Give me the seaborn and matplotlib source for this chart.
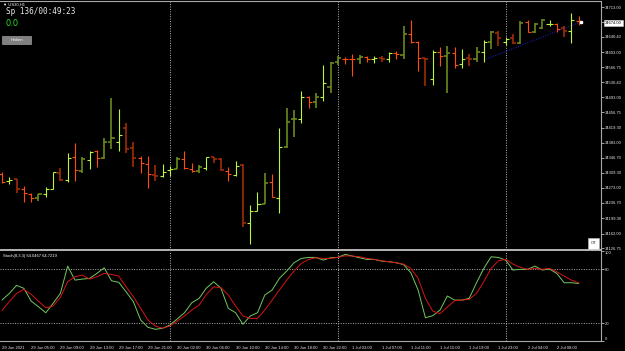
import numpy as np
import pandas as pd
import seaborn as sns
import matplotlib.pyplot as plt
from matplotlib.patches import Rectangle
from matplotlib.transforms import blended_transform_factory

# US30 H1 bars
opens = [34307, 34290, 34295, 34270, 34258, 34248, 34258, 34270, 34309, 34292,
         34348, 34314, 34341, 34363, 34346, 34385, 34385, 34419, 34370, 34346,
         34331, 34304, 34302, 34316, 34319, 34343, 34319, 34314, 34321, 34348,
         34343, 34314, 34304, 34329, 34188, 34217, 34234, 34287, 34248, 34372,
         34441, 34441, 34494, 34482, 34494, 34518, 34579, 34587, 34587, 34587,
         34591, 34587, 34589, 34587, 34601, 34596, 34647, 34628, 34589, 34538,
         34604, 34594, 34601, 34574, 34589, 34587, 34604, 34628, 34650, 34628,
         34638, 34625, 34676, 34652, 34662, 34672, 34672, 34662, 34655, 34679]
highs = [34312, 34299, 34295, 34278, 34260, 34258, 34275, 34312, 34321, 34358,
         34382, 34348, 34363, 34365, 34394, 34492, 34465, 34431, 34385, 34351,
         34351, 34329, 34331, 34326, 34348, 34363, 34334, 34329, 34348, 34348,
         34346, 34324, 34338, 34331, 34231, 34263, 34309, 34307, 34419, 34467,
         34462, 34509, 34497, 34504, 34572, 34579, 34594, 34591, 34599, 34596,
         34594, 34594, 34594, 34604, 34606, 34667, 34681, 34630, 34589, 34608,
         34616, 34618, 34616, 34611, 34599, 34616, 34633, 34655, 34655, 34640,
         34647, 34679, 34681, 34674, 34684, 34681, 34674, 34667, 34698, 34691]
lows = [34285, 34282, 34260, 34239, 34239, 34241, 34251, 34270, 34290, 34287,
        34290, 34309, 34319, 34324, 34343, 34368, 34363, 34358, 34324, 34309,
        34273, 34290, 34299, 34302, 34319, 34319, 34312, 34309, 34316, 34334,
        34314, 34290, 34302, 34178, 34136, 34217, 34234, 34251, 34212, 34370,
        34397, 34431, 34467, 34467, 34484, 34504, 34572, 34574, 34545, 34574,
        34579, 34577, 34579, 34579, 34587, 34587, 34625, 34557, 34521, 34523,
        34569, 34504, 34565, 34565, 34569, 34579, 34579, 34611, 34618, 34621,
        34623, 34623, 34652, 34650, 34659, 34667, 34652, 34640, 34625, 34669]
closes = [34287, 34292, 34270, 34260, 34248, 34258, 34270, 34312, 34292, 34346,
          34316, 34343, 34360, 34346, 34385, 34394, 34402, 34368, 34346, 34334,
          34307, 34302, 34312, 34319, 34343, 34321, 34314, 34324, 34348, 34343,
          34316, 34307, 34326, 34188, 34217, 34234, 34285, 34251, 34372, 34433,
          34441, 34494, 34482, 34494, 34528, 34577, 34589, 34587, 34587, 34591,
          34587, 34589, 34587, 34601, 34599, 34647, 34628, 34589, 34587, 34604,
          34594, 34601, 34572, 34587, 34587, 34604, 34628, 34652, 34638, 34635,
          34625, 34674, 34652, 34672, 34681, 34672, 34659, 34655, 34681, 34674]
# G = bright up, O = dark up, R = bright down, D = dark down
bar_kind = list("RGDRROGGDG" "ROGROOGDDR" "RDGGORROGD" "DRGDGGORGO"
                "OGROGOORRO" "RGDGRORRDG" "RORGDOGODG" "DOROOGRDGR")

# Stoch(8,3,3)
stoch_main = [45.7, 53.0, 62.0, 58.7, 44.6, 38.3, 31.7, 42.1, 53.1, 83.3,
              67.8, 68.9, 69.7, 75.2, 81.4, 67.1, 65.3, 54.9, 43.9, 23.6,
              15.6, 13.4, 14.5, 18.1, 24.8, 31.7, 42.8, 47.6, 59.0, 66.0,
              58.7, 36.6, 31.7, 18.9, 28.1, 31.7, 51.3, 56.8, 69.7, 77.8,
              87.0, 91.8, 92.9, 92.9, 89.9, 92.5, 92.9, 96.2, 94.4, 92.5,
              90.7, 90.7, 88.8, 88.1, 87.0, 85.0, 76.0, 56.8, 26.2, 28.4,
              34.7, 50.2, 45.7, 45.7, 47.6, 64.9, 80.8, 93.6, 92.9, 89.9,
              78.9, 79.7, 79.7, 83.3, 78.9, 80.0, 75.2, 64.9, 64.9, 64.05]
stoch_signal = [34.0, 43.9, 53.1, 57.6, 52.0, 44.6, 37.2, 39.1, 48.7, 66.0,
                71.5, 73.4, 68.9, 71.5, 75.2, 74.1, 72.3, 60.4, 49.4, 36.6,
                23.6, 17.0, 14.5, 17.0, 22.5, 28.1, 34.7, 40.2, 52.0, 60.4,
                59.3, 51.3, 39.1, 28.1, 25.5, 25.5, 34.7, 45.7, 56.8, 67.8,
                77.8, 86.3, 90.7, 92.5, 91.8, 91.8, 92.9, 94.7, 94.4, 93.6,
                91.8, 90.7, 89.2, 88.1, 87.0, 85.5, 80.8, 69.7, 47.6, 33.6,
                30.6, 38.0, 45.0, 45.7, 46.5, 53.1, 66.0, 80.8, 89.2, 90.7,
                85.5, 81.9, 79.7, 80.8, 79.7, 80.8, 77.0, 72.3, 67.8, 64.72]

time_labels = ["29 Jun 2021", "29 Jun 05:00", "29 Jun 09:00", "29 Jun 13:00",
               "29 Jun 17:00", "29 Jun 21:00", "30 Jun 02:00", "30 Jun 06:00",
               "30 Jun 10:00", "30 Jun 14:00", "30 Jun 18:00", "30 Jun 22:00",
               "1 Jul 03:00", "1 Jul 07:00", "1 Jul 11:00", "1 Jul 15:00",
               "1 Jul 19:00", "1 Jul 23:00", "2 Jul 04:00", "2 Jul 08:00"]
label_bars = list(range(0, 80, 4))
day_breaks = [23, 46, 69]
price_ticks = [34713.00, 34676.70, 34640.40, 34603.00, 34566.75, 34530.40,
               34493.00, 34456.75, 34419.30, 34383.00, 34346.70, 34309.30,
               34273.00, 34236.70, 34199.30, 34162.00, 34126.75]
stoch_levels = [20, 80]
trend_x = [66.0, 79.2]
trend_y = [34584, 34676]

sns.set_style("dark")
plt.rcParams["font.family"] = ["Liberation Sans", "DejaVu Sans"]

W, H = 625, 351
fig = plt.figure(figsize=(6.25, 3.51), dpi=100, facecolor="black")


def box(x0, y0, x1, y1):
    return [x0 / W, 1 - y1 / H, (x1 - x0) / W, (y1 - y0) / H]


ax = fig.add_axes(box(0, 1, 601, 250))
ax2 = fig.add_axes(box(0, 251, 601, 341.4))
for a in (ax, ax2):
    a.set_facecolor("black")
    a.grid(False)
    a.set_xlim(-0.27, 82.05)
    for s in a.spines.values():
        s.set_color("#A8A8A8")
        s.set_linewidth(0.8)
    a.spines["left"].set_visible(False)
ax.spines["bottom"].set_linewidth(1.4)
ax.spines["bottom"].set_color("#B4B4B4")
ax2.spines["top"].set_visible(False)

# price bars
palette = {"G": "#BDF53C", "O": "#6A8A1C", "R": "#FF4C0C", "D": "#A02C06"}
widths = {"G": 0.8, "O": 1.2, "R": 0.8, "D": 1.2}
bars = pd.DataFrame(dict(open=opens, high=highs, low=lows, close=closes, kind=bar_kind))
bars["x"] = np.arange(len(bars))
for kind, grp in bars.groupby("kind"):
    c, lw = palette[kind], widths[kind]
    ax.vlines(grp.x, grp.low, grp.high, color=c, lw=lw)
    ax.hlines(grp.open, grp.x - 0.42, grp.x, color=c, lw=lw)
    ax.hlines(grp.close, grp.x, grp.x + 0.42, color=c, lw=lw)

ax.plot(trend_x, trend_y, color="#1A1AB0", ls=(0, (1, 1.2)), lw=0.8, zorder=1)
ax.plot(bars.x.iloc[-1] + 0.3, closes[-1] + 2, marker="s", ms=1.6, color="white")

for b in day_breaks:
    for a in (ax, ax2):
        a.axvline(b, color="#B8B8B8", ls=(0, (1, 1.5)), lw=0.7, zorder=0)

ax.set_ylim(34121.9, 34727.6)
ax.set_xticks([])
ax.yaxis.tick_right()
ax.set_yticks(price_ticks)
ax.set_yticklabels([f"{p:.2f}" for p in price_ticks])
ax.tick_params(axis="y", colors="#E6E6E6", labelsize=3, length=2, width=0.5, pad=1)

# current price
trans = blended_transform_factory(ax.transAxes, ax.transData)
ax.text(1.006, closes[-1], f"{closes[-1]:.2f}", transform=trans, fontsize=3,
        color="black", va="center", ha="left", zorder=5,
        bbox=dict(boxstyle="square,pad=0.25", fc="white", ec="#D0D0D0", lw=0.4))

# stochastic panel
st = pd.DataFrame({"bar": np.arange(len(stoch_main)), "Main": stoch_main,
                   "Signal": stoch_signal}).melt("bar", var_name="line", value_name="value")
sns.lineplot(data=st, x="bar", y="value", hue="line", hue_order=["Main", "Signal"],
             palette={"Main": "#72C85E", "Signal": "#D81414"}, linewidth=0.7,
             legend=False, ax=ax2)
for lv in stoch_levels:
    ax2.axhline(lv, color="#B0B0B0", ls=(0, (1, 1.5)), lw=0.7, zorder=0)
ax2.set_ylim(0, 100)
ax2.set_xlabel("")
ax2.set_ylabel("")
ax2.yaxis.tick_right()
ax2.set_yticks([0, 20, 80, 100])
ax2.set_yticklabels(["0", "20", "80", "100"])
ylabs = ax2.get_yticklabels()
ylabs[0].set_va("bottom")
ylabs[-1].set_va("top")
ax2.tick_params(axis="y", colors="#E6E6E6", labelsize=3, length=2, width=0.5, pad=1)
ax2.set_xticks(label_bars)
ax2.set_xticklabels(time_labels, ha="left")
ax2.tick_params(axis="x", colors="#E6E6E6", labelsize=3, length=2, width=0.5, pad=1)

# overlay texts
fig.text(3 / W, 1 - 4.5 / H, "▼ US30,H1", fontsize=3, color="white", va="center")
fig.text(6 / W, 1 - 12 / H, "Sp 136/00:49:23", fontsize=5.5, family="DejaVu Sans Mono",
         color="#E8E8E8", va="center")
fig.text(6 / W, 1 - 23.5 / H, "0.0", fontsize=6, family="DejaVu Sans", color="#22DD22",
         va="center")
fig.add_artist(Rectangle((2 / W, 1 - 44 / H), 29 / W, 8 / H, transform=fig.transFigure,
                         fc="#808080", ec="#B0B0B0", lw=0.4))
fig.text(16.5 / W, 1 - 40 / H, "Heiken", fontsize=3, color="white", ha="center", va="center")
fig.add_artist(Rectangle((588 / W, 1 - 248.5 / H), 11 / W, 10.5 / H, transform=fig.transFigure,
                         fc="white", ec="#C0C0C0", lw=0.4, zorder=6))
fig.text(593.5 / W, 1 - 243.3 / H, "OT", fontsize=3, color="#202020", ha="center",
         va="center", zorder=7)
fig.text(3 / W, 1 - 255.5 / H, "Stoch(8,3,3) 64.0467 64.7219", fontsize=3, color="white",
         va="center")

fig.savefig("out.png", dpi=100, facecolor="black")
